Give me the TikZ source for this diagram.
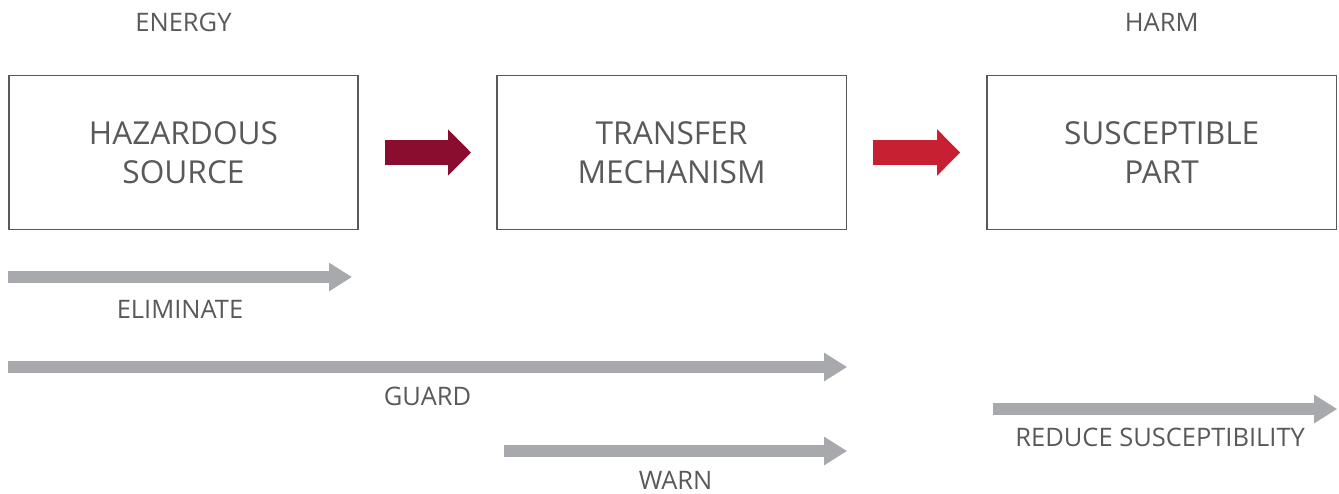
\documentclass[tikz,border=0pt]{standalone}
\usepackage{fontspec}
\setmainfont{Open Sans}
\usetikzlibrary{positioning,arrows.meta}
\definecolor{txtgray}{HTML}{59595C}
\definecolor{arrgray}{HTML}{A7A9AC}
\definecolor{darkred}{HTML}{8A0C2E}
\definecolor{brightred}{HTML}{C62032}
\tikzset{
  stage/.style={draw=txtgray,line width=0.9pt,minimum width=6.99cm,minimum height=3.08cm,
    align=center,text=txtgray,font=\fontsize{18}{22}\selectfont},
  lbl/.style={text=txtgray,font=\fontsize{14.5}{17}\selectfont},
  grayarr/.style={arrgray,line width=0.24cm,-{Triangle[length=0.46cm,width=0.54cm]}},
  flowarr/.style={line width=0.5cm,-{Triangle[length=0.46cm,width=0.9cm]}}
}
\begin{document}
\begin{tikzpicture}
  \useasboundingbox (0,0) rectangle (26.78,-9.86);
  % the three stages
  \node[stage] (src) at (3.67,-3.05) {HAZARDOUS\\SOURCE};
  \node[stage,right=2.74cm of src] (tm) {TRANSFER\\MECHANISM};
  \node[stage,right=2.78cm of tm] (sp) {SUSCEPTIBLE\\PART};
  \node[lbl] (energy) at ([yshift=1.04cm]src.north) {ENERGY};
  \node[lbl] (harm) at ([yshift=1.04cm]sp.north) {HARM};
  % flow between stages
  \draw[flowarr,darkred] ([xshift=0.52cm]src.east) -- ([xshift=-0.5cm]tm.west);
  \draw[flowarr,brightred] ([xshift=0.52cm]tm.east) -- ([xshift=-0.52cm]sp.west);
  % controls
  \coordinate (elimA) at (src.west |- 0,-5.54);
  \coordinate (elimB) at ([xshift=-0.14cm]src.east |- 0,-5.54);
  \coordinate (guardA) at (src.west |- 0,-7.34);
  \coordinate (guardB) at (tm.east |- 0,-7.34);
  \coordinate (warnA) at ([xshift=0.16cm]tm.west |- 0,-9.02);
  \coordinate (warnB) at (tm.east |- 0,-9.02);
  \coordinate (redA) at ([xshift=0.14cm]sp.west |- 0,-8.18);
  \coordinate (redB) at (sp.east |- 0,-8.18);
  \draw[grayarr] (elimA) -- (elimB) node[lbl,midway,yshift=-0.64cm] {ELIMINATE};
  \draw[grayarr] (guardA) -- (guardB) node[lbl,midway,yshift=-0.58cm] {GUARD};
  \draw[grayarr] (warnA) -- (warnB) node[lbl,midway,yshift=-0.58cm] {WARN};
  \draw[grayarr] (redA) -- (redB) node[lbl,midway,xshift=-0.1cm,yshift=-0.56cm] {REDUCE SUSCEPTIBILITY};
\end{tikzpicture}
\end{document}
